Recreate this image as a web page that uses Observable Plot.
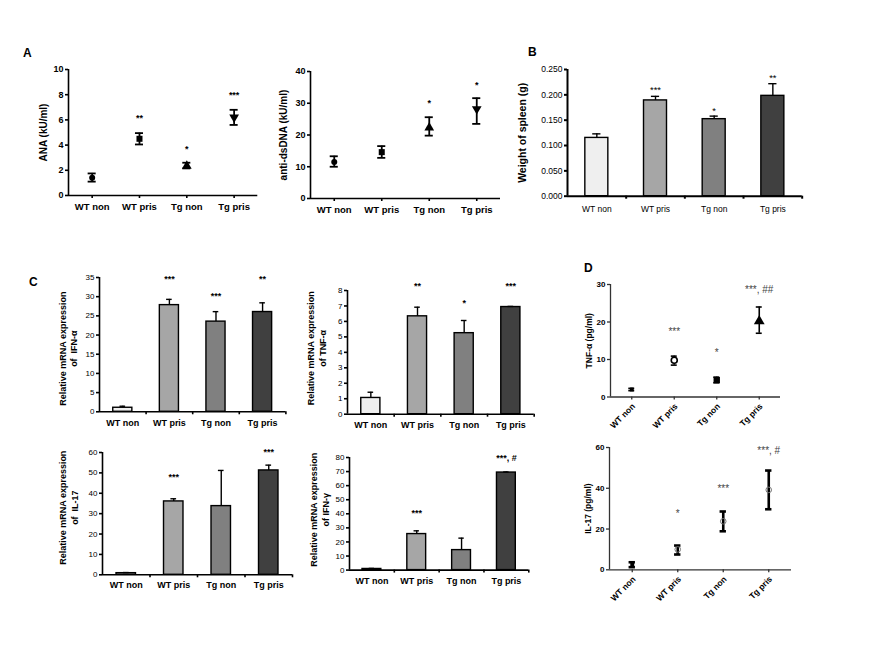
<!DOCTYPE html>
<html><head><meta charset="utf-8">
<script src="https://cdn.jsdelivr.net/npm/d3@7"></script>
<script src="https://cdn.jsdelivr.net/npm/@observablehq/plot@0.6"></script>
<style>
body{margin:0;background:#fff;}
#fig{position:relative;width:885px;height:662px;background:#fff;font-family:"Liberation Sans",Arial,Helvetica,sans-serif;overflow:hidden;}
#fig svg{position:absolute;overflow:visible;}
.plbl{position:absolute;font-weight:bold;font-size:12px;line-height:12px;color:#000;}
</style></head><body><div id="fig"></div>
<script>
// ---------- data ----------
const groups = ["WT non", "WT pris", "Tg non", "Tg pris"];
const barFill = ["#efefef", "#a6a6a6", "#808080", "#404040"];

// A left: ANA (kU/ml)
const anaMean = [1.4, 4.5, 2.35, 6.2];
const anaLo = [1.1, 4.05, 2.15, 5.6];
const anaHi = [1.75, 4.95, 2.6, 6.8];
const anaStars = ["", "**", "*", "***"];
const anaStarY = [0, 6.3, 3.85, 8.1];
const anaTicks = [0, 2, 4, 6, 8, 10];

// A right: anti-dsDNA (kU/ml)
const dsMean = [11.5, 14.6, 22.3, 28.2];
const dsLo = [10.0, 12.8, 19.8, 23.5];
const dsHi = [13.3, 16.5, 25.6, 31.6];
const dsStars = ["", "", "*", "*"];
const dsStarY = [0, 0, 30.8, 36.5];
const dsTicks = [0, 10, 20, 30, 40];

// B: weight of spleen (g)
const spMean = [0.115, 0.189, 0.152, 0.198];
const spHi = [0.123, 0.197, 0.158, 0.222];
const spStars = ["", "***", "*", "**"];
const spStarY = [0, 0.213, 0.173, 0.238];
const spTicks = [0, 0.05, 0.1, 0.15, 0.2, 0.25];

// C: relative mRNA expression
const ifnaMean = [1.05, 27.8, 23.5, 26.0];
const ifnaHi = [1.45, 29.3, 26.1, 28.4];
const ifnaStars = ["", "***", "***", "**"];
const ifnaStarY = [0, 35, 30.7, 35];
const ifnaTicks = [0, 5, 10, 15, 20, 25, 30, 35];

const tnfMean = [1.05, 6.33, 5.24, 6.93];
const tnfHi = [1.42, 6.92, 6.06, 6.97];
const tnfStars = ["", "**", "*", "***"];
const tnfStarY = [0, 8.4, 7.3, 8.4];
const tnfTicks = [0, 1, 2, 3, 4, 5, 6, 7, 8];

const il17Mean = [0.8, 36.0, 33.7, 51.2];
const il17Hi = [1.1, 37.3, 51.2, 53.8];
const il17Stars = ["", "***", "", "***"];
const il17StarY = [0, 48.7, 0, 61.3];
const il17Ticks = [0, 10, 20, 30, 40, 50, 60];

const ifngMean = [0.8, 25.6, 14.2, 69.3];
const ifngHi = [1.2, 27.9, 22.7, 69.7];
const ifngStars = ["", "***", "", "***, #"];
const ifngStarY = [0, 41.6, 0, 81];
const ifngTicks = [0, 10, 20, 30, 40, 50, 60, 70, 80];

// D: serum cytokines (pg/ml)
const dTnfMean = [2.0, 9.8, 4.5, 20.2];
const dTnfLo = [1.7, 8.5, 3.8, 17.0];
const dTnfHi = [2.3, 10.9, 5.3, 24.0];
const dTnfStars = ["", "***", "*", "***, ##"];
const dTnfStarY = [0, 18, 12.4, 29];
const dTnfTicks = [0, 10, 20, 30];

const dIl17Mean = [2.5, 10.0, 23.8, 39.2];
const dIl17Lo = [1.3, 7.5, 18.9, 29.7];
const dIl17Hi = [3.7, 11.9, 28.6, 48.7];
const dIl17Stars = ["", "*", "***", "***, #"];
const dIl17StarY = [0, 28.6, 40.8, 59.3];
const dIl17Ticks = [0, 20, 40, 60];

// ---------- drawing ----------
const fig = document.getElementById("fig");
const FONT = '"Liberation Sans", Arial, Helvetica, sans-serif';
const idx = [0, 1, 2, 3];

function panel(c) {
  const mL = 90, mR = 14, mT = 36, mB = 44;
  const w = c.axEnd - c.ax, h = c.y0 - c.yTop;
  const aw = c.axisW ?? 1.5, ac = c.axisColor ?? "black";
  const marks = [];
  marks.push(Plot.ruleX([-0.5], {y1: 0, y2: c.yMax, stroke: ac, strokeWidth: aw}));
  marks.push(Plot.ruleY([0], {x1: -0.5, x2: 3.5, stroke: ac, strokeWidth: aw}));
  marks.push(Plot.axisY(c.yTicks, {anchor: "left", tickSize: 3, tickPadding: 2, stroke: ac, strokeWidth: aw,
    fontSize: c.tickFs, fontWeight: c.tickW, tickFormat: c.fmt ?? (d => String(d)), label: null}));
  marks.push(Plot.axisX(c.xTicks, {anchor: "bottom", tickSize: 3, fill: "none", stroke: ac, strokeWidth: aw, label: null}));
  if (c.bars) {
    marks.push(Plot.rectY(idx, {x1: i => i - c.bw, x2: i => i + c.bw, y1: 0, y2: i => c.mean[i],
      fill: i => barFill[i], stroke: "black", strokeWidth: 1.4}));
    marks.push(Plot.ruleX(idx, {x: i => i, y1: i => c.mean[i], y2: i => c.hi[i], stroke: "black", strokeWidth: 1.4}));
    marks.push(Plot.ruleY(idx, {y: i => c.hi[i], x1: i => i - c.cap, x2: i => i + c.cap, stroke: "black", strokeWidth: 1.4}));
  } else {
    marks.push(Plot.ruleX(idx, {x: i => i, y1: i => c.lo[i], y2: i => c.hi[i], stroke: "black", strokeWidth: c.ebW}));
    marks.push(Plot.ruleY(idx, {y: i => c.hi[i], x1: i => i - c.cap, x2: i => i + c.cap, stroke: "black", strokeWidth: c.ebW}));
    marks.push(Plot.ruleY(idx, {y: i => c.lo[i], x1: i => i - c.cap, x2: i => i + c.cap, stroke: "black", strokeWidth: c.ebW}));
    idx.forEach(i => {
      const s = c.sym[i];
      marks.push(Plot.dot([i], {x: d => d, y: d => c.mean[d], symbol: s.symbol, r: s.r, fill: s.fill, stroke: s.stroke ?? "none",
        strokeWidth: s.sw ?? 1, rotate: s.rotate ?? 0}));
    });
  }
  const si = idx.filter(i => c.stars[i]);
  marks.push(Plot.text(si, {x: i => i, y: i => c.starY[i], text: i => c.stars[i], fontSize: c.starFs, dy: 2,
    fill: c.starColor ?? "black", fontWeight: c.starW ?? "bold"}));
  if (c.rotX) {
    marks.push(Plot.text(idx, {x: i => i, y: 0, dy: c.xlabDy, dx: 2, rotate: -45, textAnchor: "end", lineAnchor: "middle",
      text: i => groups[i], fontSize: c.xlabFs, fontWeight: "bold"}));
  } else {
    marks.push(Plot.text(idx, {x: i => i, y: 0, dy: c.xlabDy, lineAnchor: "middle",
      text: i => groups[i], fontSize: c.xlabFs, fontWeight: c.xlabW ?? "bold"}));
  }
  marks.push(Plot.text([c.ylab], {frameAnchor: "left", dx: -c.ylabOff, dy: c.ylabDy ?? 0, rotate: -90, text: d => d,
    textAnchor: "middle", lineAnchor: "middle", lineHeight: c.lh ?? 1.2, fontSize: c.ylabFs, fontWeight: "bold"}));

  const svg = Plot.plot({
    width: w + mL + mR, height: h + mT + mB,
    marginLeft: mL, marginRight: mR, marginTop: mT, marginBottom: mB,
    x: {type: "linear", domain: [-0.5, 3.5]},
    y: {type: "linear", domain: [0, c.yMax]},
    color: {type: "identity"},
    style: {fontFamily: FONT, background: "transparent", color: "black", overflow: "visible"},
    marks
  });
  svg.style.position = "absolute";
  svg.style.left = (c.ax - mL) + "px";
  svg.style.top = (c.yTop - mT) + "px";
  svg.style.maxWidth = "none";
  fig.appendChild(svg);
}

const blk = "black";
panel({ax: 67.7, axEnd: 257, y0: 195.3, yTop: 69.3, yMax: 10, yTicks: anaTicks, tickFs: 9, tickW: "bold",
  xTicks: idx, xlabFs: 9.5, xlabDy: 11, ylab: "ANA (kU/ml)", ylabOff: 25, ylabFs: 10, axisW: 1.6,
  mean: anaMean, lo: anaLo, hi: anaHi, ebW: 1.8, cap: 0.085,
  sym: [{symbol: "circle", r: 3, fill: blk}, {symbol: "square", r: 3.4, fill: blk}, {symbol: "triangle", r: 3.6, fill: blk},
        {symbol: "triangle", r: 3.6, fill: blk, rotate: 180}],
  stars: anaStars, starY: anaStarY, starFs: 9});
panel({ax: 310, axEnd: 500, y0: 197.7, yTop: 70.7, yMax: 40, yTicks: dsTicks, tickFs: 9, tickW: "bold",
  xTicks: idx, xlabFs: 9.5, xlabDy: 11, ylab: "anti-dsDNA (kU/ml)", ylabOff: 27, ylabFs: 10, axisW: 1.6,
  mean: dsMean, lo: dsLo, hi: dsHi, ebW: 1.8, cap: 0.085,
  sym: [{symbol: "circle", r: 3, fill: blk}, {symbol: "square", r: 3.4, fill: blk}, {symbol: "triangle", r: 3.6, fill: blk},
        {symbol: "triangle", r: 3.6, fill: blk, rotate: 180}],
  stars: dsStars, starY: dsStarY, starFs: 9});
panel({ax: 567.3, axEnd: 802, y0: 196, yTop: 69.3, yMax: 0.25, yTicks: spTicks, tickFs: 8.5, tickW: "normal",
  fmt: d => d.toFixed(3), xTicks: [0.5, 1.5, 2.5, 3.5], xlabFs: 8.5, xlabW: "normal", xlabDy: 13,
  ylab: "Weight of spleen (g)", ylabOff: 45.6, ylabFs: 10.5, axisW: 2,
  bars: true, mean: spMean, hi: spHi, bw: 0.196, cap: 0.07, stars: spStars, starY: spStarY, starFs: 9.5, starW: "normal"});
panel({ax: 99.3, axEnd: 285.7, y0: 411, yTop: 276.7, yMax: 35, yTicks: ifnaTicks, tickFs: 8, tickW: "normal",
  xTicks: [0.5, 1.5, 2.5, 3.5], xlabFs: 9, xlabDy: 11, ylab: "Relative mRNA expression\nof  IFN-α", ylabOff: 31.8, ylabDy: 4,
  ylabFs: 9, lh: 1.29, axisW: 1.6,
  bars: true, mean: ifnaMean, hi: ifnaHi, bw: 0.205, cap: 0.06, stars: ifnaStars, starY: ifnaStarY, starFs: 9});
panel({ax: 347.3, axEnd: 534, y0: 413.7, yTop: 290, yMax: 8, yTicks: tnfTicks, tickFs: 8, tickW: "normal",
  xTicks: [0.5, 1.5, 2.5, 3.5], xlabFs: 9, xlabDy: 10.5, ylab: "Relative mRNA expression\nof TNF-α", ylabOff: 31, ylabDy: -4,
  ylabFs: 9, lh: 1.29, axisW: 1.6,
  bars: true, mean: tnfMean, hi: tnfHi, bw: 0.205, cap: 0.06, stars: tnfStars, starY: tnfStarY, starFs: 9});
panel({ax: 101.7, axEnd: 291.7, y0: 574.3, yTop: 452, yMax: 60, yTicks: il17Ticks, tickFs: 8, tickW: "normal",
  xTicks: [0.5, 1.5, 2.5, 3.5], xlabFs: 9, xlabDy: 10.7, ylab: "Relative mRNA expression\nof  IL-17", ylabOff: 34.2, ylabDy: -6,
  ylabFs: 9, lh: 1.29, axisW: 1.6,
  bars: true, mean: il17Mean, hi: il17Hi, bw: 0.205, cap: 0.06, stars: il17Stars, starY: il17StarY, starFs: 9});
panel({ax: 349, axEnd: 528.3, y0: 569.3, yTop: 456.7, yMax: 80, yTicks: ifngTicks, tickFs: 8, tickW: "normal",
  xTicks: [0.5, 1.5, 2.5, 3.5], xlabFs: 9, xlabDy: 11.4, ylab: "Relative mRNA expression\nof IFN-γ", ylabOff: 30.5, ylabDy: -4,
  ylabFs: 9, lh: 1.29, axisW: 1.6,
  bars: true, mean: ifngMean, hi: ifngHi, bw: 0.21, cap: 0.06, stars: ifngStars, starY: ifngStarY, starFs: 9});
panel({ax: 610.3, axEnd: 780.3, y0: 396.7, yTop: 284.2, yMax: 30, yTicks: dTnfTicks, tickFs: 8, tickW: "bold",
  xTicks: idx, xlabFs: 8.5, xlabDy: 8, rotX: true, ylab: "TNF-α (pg/ml)", ylabOff: 22, ylabFs: 8.5,
  axisW: 1.3, axisColor: "#333",
  mean: dTnfMean, lo: dTnfLo, hi: dTnfHi, ebW: 1.6, cap: 0.07,
  sym: [{symbol: "square", r: 2.2, fill: blk}, {symbol: "circle", r: 3, fill: "white", stroke: blk, sw: 1.6},
        {symbol: "square", r: 3.6, fill: blk}, {symbol: "triangle", r: 4, fill: blk}],
  stars: dTnfStars, starY: dTnfStarY, starFs: 10, starColor: "#444", starW: "normal"});
panel({ax: 608.8, axEnd: 790.8, y0: 569.3, yTop: 447, yMax: 60, yTicks: dIl17Ticks, tickFs: 8, tickW: "bold",
  xTicks: idx, xlabFs: 8.5, xlabDy: 8, rotX: true, ylab: "IL-17 (pg/ml)", ylabOff: 22, ylabFs: 8.5,
  axisW: 1.3, axisColor: "#333",
  mean: dIl17Mean, lo: dIl17Lo, hi: dIl17Hi, ebW: 2.6, cap: 0.07,
  sym: [{symbol: "square", r: 2.2, fill: blk}, {symbol: "circle", r: 2.8, fill: "none", stroke: "#777", sw: 1},
        {symbol: "circle", r: 2.8, fill: "none", stroke: "#777", sw: 1}, {symbol: "circle", r: 2.8, fill: "none", stroke: "#777", sw: 1}],
  stars: dIl17Stars, starY: dIl17StarY, starFs: 10, starColor: "#444", starW: "normal"});

[["A", 27, 52.7], ["B", 532, 51.7], ["C", 33, 282], ["D", 588, 268]].forEach(([t, x, y]) => {
  const s = document.createElement("div");
  s.className = "plbl"; s.textContent = t;
  s.style.left = (x - 4) + "px"; s.style.top = (y - 6) + "px";
  fig.appendChild(s);
});
</script></body></html>
